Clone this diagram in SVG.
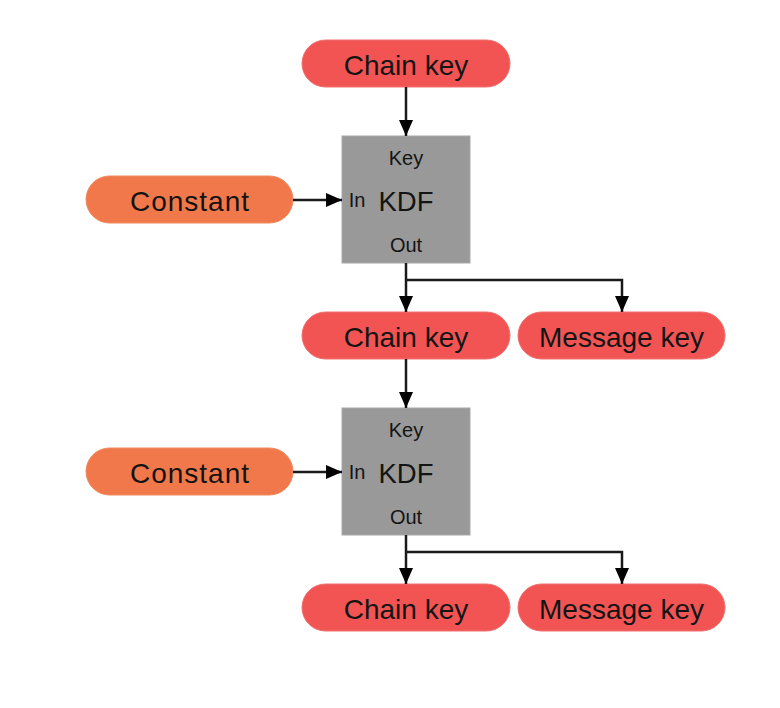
<svg xmlns="http://www.w3.org/2000/svg" width="780" height="708" viewBox="0 0 780 708">
<defs>
<marker id="ah" viewBox="0 0 16 14" refX="16" refY="7" markerWidth="16" markerHeight="14" markerUnits="userSpaceOnUse" orient="auto">
<path d="M0,0 L16,7 L0,14 z" fill="#000"/>
</marker>
<style>
.red{fill:#f25454;stroke:#f07070;stroke-width:1}
.org{fill:#f0784a;stroke:#f08a60;stroke-width:1}
.kdf{fill:#999999;stroke:#a8a8a8;stroke-width:1}
.big{font-family:"Liberation Sans",Arial,sans-serif;font-size:28px;fill:#141414;text-anchor:middle}
.cst{letter-spacing:1px}
.sm{font-family:"Liberation Sans",Arial,sans-serif;font-size:20px;fill:#141414;text-anchor:middle}
.kd{font-family:"Liberation Sans",Arial,sans-serif;font-size:27.5px;fill:#141414;text-anchor:middle}
.c{fill:none;stroke:#1a1a1a;stroke-width:2.5;marker-end:url(#ah)}
</style>
</defs>
<rect width="780" height="708" fill="#fff"/>
<g id="chainkey0"><rect class="red" x="302" y="40" width="208" height="47" rx="23.5"/><text class="big" x="406" y="74.5">Chain key</text></g>
<g id="kdf1"><rect class="kdf" x="342" y="136" width="128" height="127"/>
<text class="sm" x="406" y="165">Key</text><text class="kd" x="406" y="211">KDF</text><text class="sm" x="357" y="207">In</text><text class="sm" x="406" y="252">Out</text></g>
<g id="constant1"><rect class="org" x="86" y="176" width="207" height="47" rx="23.5"/><text class="big cst" x="190" y="210.5">Constant</text></g>
<g id="chainkey1"><rect class="red" x="302" y="312" width="208" height="47" rx="23.5"/><text class="big" x="406" y="346.5">Chain key</text></g>
<g id="msgkey1"><rect class="red" x="518" y="312" width="207" height="47" rx="23.5"/><text class="big" x="621.5" y="346.5">Message key</text></g>
<g id="kdf2"><rect class="kdf" x="342" y="408" width="128" height="127"/>
<text class="sm" x="406" y="437">Key</text><text class="kd" x="406" y="483">KDF</text><text class="sm" x="357" y="479">In</text><text class="sm" x="406" y="524">Out</text></g>
<g id="constant2"><rect class="org" x="86" y="448" width="207" height="47" rx="23.5"/><text class="big cst" x="190" y="482.5">Constant</text></g>
<g id="chainkey2"><rect class="red" x="302" y="584" width="208" height="47" rx="23.5"/><text class="big" x="406" y="618.5">Chain key</text></g>
<g id="msgkey2"><rect class="red" x="518" y="584" width="207" height="47" rx="23.5"/><text class="big" x="621.5" y="618.5">Message key</text></g>
<g id="connectors">
<path class="c" d="M406,87 V136"/>
<path class="c" d="M293,200 H342"/>
<path class="c" d="M406,263 V312"/>
<path class="c" d="M406,280 H622 V312"/>
<path class="c" d="M406,359 V408"/>
<path class="c" d="M293,472 H342"/>
<path class="c" d="M406,535 V584"/>
<path class="c" d="M406,552 H622 V584"/>
</g>
</svg>
